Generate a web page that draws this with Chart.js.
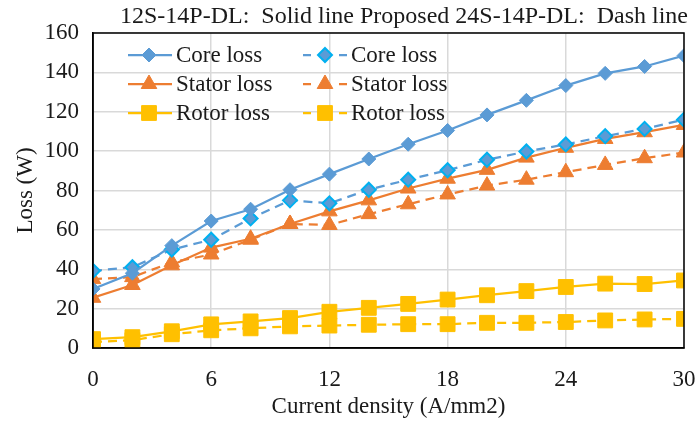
<!DOCTYPE html>
<html>
<head>
<meta charset="utf-8">
<script src="https://cdn.jsdelivr.net/npm/chart.js@4.4.1/dist/chart.umd.min.js"></script>
<style>
  html, body { margin: 0; padding: 0; background: #fff; }
  #wrap { width: 697px; height: 421px; }
</style>
</head>
<body>
<div id="wrap"><canvas id="ch1"></canvas></div>
<script>
// current density (A/mm2)
var currentDensity = [0, 2, 4, 6, 8, 10, 12, 14, 16, 18, 20, 22, 24, 26, 28, 30];

// 12S-14P-DL (solid)
var coreSolid   = [30, 38, 52, 64.5, 70.5, 80.4, 88.3, 96, 103.5, 110.5, 118.4, 125.8, 133.3, 139.5, 143, 148.5];
var statorSolid = [25.5, 32, 42, 51, 55.5, 63, 69.4, 75, 81, 86, 90.5, 96.7, 101.7, 106.2, 109.6, 113.3];
var rotorSolid  = [4.5, 5.5, 8.5, 12, 13.5, 15.2, 18.4, 20.4, 22.4, 24.6, 26.8, 28.9, 31, 32.7, 32.5, 34.3];

// proposed 24S-14P-DL (dash)
var coreDash   = [39.2, 41, 50, 55, 65.8, 75, 73.5, 80.4, 85.5, 90.3, 95.6, 99.8, 103.4, 107.6, 111.3, 116];
var statorDash = [35, 36, 43.5, 47.5, 55, 63, 62.5, 68, 73, 78, 82.5, 85.5, 89.3, 93, 96.4, 99.3];
var rotorDash  = [3, 4, 7, 9, 10, 11, 11.4, 11.8, 12.1, 12.1, 12.8, 12.8, 13.2, 14, 14.5, 14.8];

var xTicks = [0, 6, 12, 18, 24, 30];
var yTicks = [0, 20, 40, 60, 80, 100, 120, 140, 160];

var titleText = '12S-14P-DL:  Solid line Proposed 24S-14P-DL:  Dash line';
var fontFam = "'Liberation Serif', 'Times New Roman', serif";
var txtColor = '#1a1a1a';
var FS = 23;

var BLUE = '#5B9BD5', CYAN = '#00B0F0', ORANGE = '#ED7D31', GOLD = '#FFC000';
var DASH = [9, 6];

function pts(arr){
  return arr.map(function(v, i){ return {x: currentDensity[i], y: v}; });
}

var datasets = [
  {label: 'Core loss', data: pts(coreSolid), borderColor: BLUE, backgroundColor: BLUE,
   pointStyle: 'rectRot', pointRadius: 7, pointBorderColor: BLUE, pointBorderWidth: 1},
  {label: 'Core loss', data: pts(coreDash), borderColor: BLUE, backgroundColor: BLUE, borderDash: DASH,
   pointStyle: 'rectRot', pointRadius: 7, pointBorderColor: CYAN, pointBorderWidth: 2},
  {label: 'Stator loss', data: pts(statorSolid), borderColor: ORANGE, backgroundColor: ORANGE,
   pointStyle: 'triangle', pointRadius: 9, pointBorderColor: ORANGE, pointBorderWidth: 1},
  {label: 'Stator loss', data: pts(statorDash), borderColor: ORANGE, backgroundColor: ORANGE, borderDash: DASH,
   pointStyle: 'triangle', pointRadius: 9, pointBorderColor: ORANGE, pointBorderWidth: 1},
  {label: 'Rotor loss', data: pts(rotorSolid), borderColor: GOLD, backgroundColor: GOLD,
   pointStyle: 'rect', pointRadius: 10.5, pointBorderColor: GOLD, pointBorderWidth: 1},
  {label: 'Rotor loss', data: pts(rotorDash), borderColor: GOLD, backgroundColor: GOLD, borderDash: DASH,
   pointStyle: 'rect', pointRadius: 10.5, pointBorderColor: GOLD, pointBorderWidth: 1}
];
datasets.forEach(function(d){ d.borderWidth = 2.25; d.tension = 0; d.pointHoverRadius = d.pointRadius; });

//draw a marker shape like the datasets use
function marker(ctx, style, x, y, fill, stroke, lw){
  ctx.save();
  ctx.beginPath();
  if (style == 'rectRot'){
    ctx.moveTo(x, y - 7); ctx.lineTo(x + 7, y); ctx.lineTo(x, y + 7); ctx.lineTo(x - 7, y);
  } else if (style == 'triangle'){
    ctx.moveTo(x, y - 9); ctx.lineTo(x + 7.8, y + 4.5); ctx.lineTo(x - 7.8, y + 4.5);
  } else {
    ctx.rect(x - 7.4, y - 7.4, 14.8, 14.8);
  }
  ctx.closePath();
  ctx.fillStyle = fill; ctx.fill();
  ctx.lineWidth = lw; ctx.strokeStyle = stroke; ctx.stroke();
  ctx.restore();
}

var decor = {
  id: 'decor',
  afterDraw: function(chart){
    var ctx = chart.ctx, a = chart.chartArea;
    // frame round the plot
    ctx.save();
    ctx.strokeStyle = '#000'; ctx.lineWidth = 1.5;
    ctx.strokeRect(a.left, a.top, a.right - a.left, a.bottom - a.top);
    ctx.restore();

    // title
    ctx.save();
    ctx.font = '24px ' + fontFam;
    ctx.fillStyle = txtColor;
    ctx.textAlign = 'center'; ctx.textBaseline = 'middle';
    ctx.fillText(titleText, 404, 17);
    ctx.restore();

    // legend, 2 columns x 3 rows inside the plot
    var rows = [55, 84, 113];
    var cols = [{x0: 128, x1: 172, mx: 149, tx: 176}, {x0: 303, x1: 347, mx: 325, tx: 351}];
    datasets.forEach(function(d, i){
      var c = cols[i % 2], y = rows[Math.floor(i / 2)];
      ctx.save();
      ctx.strokeStyle = d.borderColor; ctx.lineWidth = 2.25;
      ctx.beginPath();
      if (d.borderDash){
        ctx.moveTo(c.x0, y); ctx.lineTo(c.x0 + 8, y);
        ctx.moveTo(c.x1 - 8, y); ctx.lineTo(c.x1, y);
      } else {
        ctx.moveTo(c.x0, y); ctx.lineTo(c.x1, y);
      }
      ctx.stroke();
      ctx.restore();
      marker(ctx, d.pointStyle, c.mx, y, d.backgroundColor, d.pointBorderColor, d.pointBorderWidth);
      ctx.save();
      ctx.font = FS + 'px ' + fontFam;
      ctx.fillStyle = txtColor;
      ctx.textAlign = 'left'; ctx.textBaseline = 'middle';
      ctx.fillText(d.label, c.tx, y + 1);
      ctx.restore();
    });
  }
};

var chartCtx = document.getElementById('ch1').getContext('2d');
var myChart = new Chart(chartCtx, {
  type: 'line',
  data: { datasets: datasets },
  options: {
    responsive: true,
    maintainAspectRatio: false,
    animation: false,
    layout: { padding: { top: 33, right: 13, left: 0, bottom: 0 } },
    plugins: { legend: { display: false }, title: { display: false }, tooltip: { enabled: false } },
    scales: {
      x: {
        type: 'linear', min: 0, max: 30,
        afterBuildTicks: function(s){ s.ticks = xTicks.map(function(v){ return {value: v}; }); },
        afterFit: function(s){ s.height = 73; s.paddingLeft = 0; s.paddingRight = 0; },
        grid: { color: '#d9d9d9', lineWidth: 1.5, drawTicks: false },
        border: { color: '#000', width: 1.5 },
        ticks: { font: { family: fontFam, size: FS }, color: txtColor, padding: 18, maxRotation: 0 },
        title: { display: true, text: 'Current density (A/mm2)', font: { family: fontFam, size: FS },
                 color: txtColor, padding: { top: 2, bottom: 0 } }
      },
      y: {
        min: 0, max: 160,
        afterBuildTicks: function(s){ s.ticks = yTicks.map(function(v){ return {value: v}; }); },
        afterFit: function(s){ s.width = 93; s.paddingTop = 0; s.paddingBottom = 0; },
        grid: { color: '#d9d9d9', lineWidth: 1.5, drawTicks: false },
        border: { color: '#000', width: 1.5 },
        ticks: { font: { family: fontFam, size: FS }, color: txtColor, padding: 14 },
        title: { display: true, text: 'Loss (W)', font: { family: fontFam, size: FS },
                 color: txtColor, padding: { top: 12, bottom: 0 } }
      }
    }
  },
  plugins: [decor]
});
</script>
</body>
</html>
